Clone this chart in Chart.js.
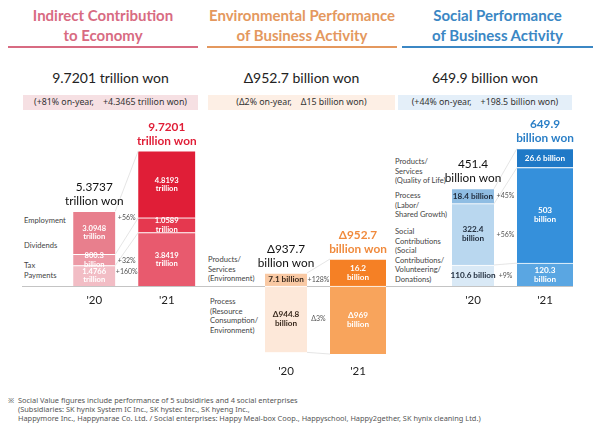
<!DOCTYPE html>
<html>
<head>
<meta charset="utf-8">
<script src="https://cdn.jsdelivr.net/npm/chart.js@4.4.1/dist/chart.umd.min.js"></script>
<style>
body { margin:0; width:599px; height:430px; position:relative; overflow:hidden; background:#fff; font-family:Lato, sans-serif; color:#222; }
.a { position:absolute; white-space:nowrap; }
.title { font-weight:700; font-size:15px; line-height:20px; text-align:center; top:5px; }
.rule { top:46px; height:1.5px; }
.head { top:69px; font-size:14px; line-height:18px; text-align:center; }
.box { top:95px; height:15px; line-height:15px; font-size:8.8px; text-align:center; color:#333; font-family:"Noto Sans", sans-serif; }
.box span { margin-left:9px; }
.lab { font-size:7.6px; line-height:9.5px; color:#444; }
.note { left:8px; font-size:7.4px; line-height:9px; color:#555; font-family:"Noto Sans", sans-serif; }
canvas { position:absolute; }
</style>
</head>
<body>

<div class="a title" style="left:8px;width:190px;color:#d86b82">Indirect Contribution<br>to Economy</div>
<div class="a rule" style="left:8px;width:190px;background:#d86b82"></div>
<div class="a title" style="left:207px;width:190px;color:#e4985e">Environmental Performance<br>of Business Activity</div>
<div class="a rule" style="left:207px;width:190px;background:#e4985e"></div>
<div class="a title" style="left:402px;width:191px;color:#3b87c4">Social Performance<br>of Business Activity</div>
<div class="a rule" style="left:402px;width:191px;background:#3b87c4"></div>

<div class="a head" style="left:23px;width:175px">9.7201 trillion won</div>
<div class="a head" style="left:208px;width:187px">Δ952.7 billion won</div>
<div class="a head" style="left:398px;width:174px">649.9 billion won</div>

<div class="a box" style="left:23px;width:175px;background:#f6e0e3">(+81% on-year,<span>+4.3465 trillion won)</span></div>
<div class="a box" style="left:208px;width:187px;background:#fdefe5">(Δ2% on-year,<span>Δ15 billion won)</span></div>
<div class="a box" style="left:398px;width:174px;background:#e4eff9">(+44% on-year,<span>+198.5 billion won)</span></div>

<div class="a lab" style="left:24px;top:216px">Employment</div>
<div class="a lab" style="left:24px;top:241px">Dividends</div>
<div class="a lab" style="left:24px;top:261px">Tax<br>Payments</div>

<div class="a lab" style="left:208px;top:255px">Products/<br>Services<br>(Environment)</div>
<div class="a lab" style="left:210px;top:297px">Process<br>(Resource<br>Consumption/<br>Environment)</div>

<div class="a lab" style="left:395px;top:157px">Products/<br>Services<br>(Quality of Life)</div>
<div class="a lab" style="left:395px;top:191px">Process<br>(Labor/<br>Shared Growth)</div>
<div class="a lab" style="left:395px;top:227px">Social<br>Contributions<br>(Social<br>Contributions/<br>Volunteering/<br>Donations)</div>

<canvas id="eco" width="210" height="200" style="left:0;top:112px"></canvas>
<canvas id="env" width="200" height="160" style="left:200px;top:225px"></canvas>
<canvas id="soc" width="209" height="200" style="left:390px;top:112px"></canvas>

<div class="a note" style="top:396px">※</div>
<div class="a note" style="left:18px;top:396px">Social Value figures include performance of 5 subsidiries and 4 social enterprises<br>(Subsidiaries: SK hynix System IC Inc., SK hystec Inc., SK hyeng Inc.,<br>Happymore Inc., Happynarae Co. Ltd. / Social enterprises: Happy Meal-box Coop., Happyschool, Happy2gether, SK hynix cleaning Ltd.)</div>

<script>
var years = ["'20", "'21"];

// indirect contribution to economy (trillion won), bottom to top
var ecoTax = [1.4766, 3.8419];
var ecoDividends = [0.8003, 1.0589];
var ecoEmployment = [3.0948, 4.8193];
var ecoTotals = [5.3737, 9.7201];
var ecoChange = ['+160%', '+32%', '+56%'];

// environmental performance (billion won)
var envProcess = [-944.8, -969];
var envProducts = [7.1, 16.2];
var envTotals = [-937.7, -952.7];
var envChange = ['Δ3%', '+128%'];

// social performance (billion won)
var socContrib = [110.6, 120.3];
var socProcess = [322.4, 503];
var socProducts = [18.4, 26.6];
var socTotals = [451.4, 649.9];
var socChange = ['+9%', '+56%', '+45%'];

Chart.defaults.font.family = 'Lato, sans-serif';

function billion(v) {
	return (v < 0 ? 'Δ' : '') + Math.abs(v);
}

var panelPlugin = {
	id: 'panel',
	beforeDatasetsDraw: function(chart, args, o) {
		var ctx = chart.ctx;
		var y0 = Math.round(chart.scales.y.getPixelForValue(0)) + 0.5;
		ctx.save();
		ctx.strokeStyle = '#c4c4c4';
		ctx.lineWidth = 1;
		ctx.beginPath();
		ctx.moveTo(o.lineFrom, y0);
		ctx.lineTo(o.lineTo, y0);
		ctx.stroke();
		ctx.restore();
	},
	afterDatasetsDraw: function(chart, args, o) {
		var ctx = chart.ctx;
		var segs = [];
		chart.data.datasets.forEach(function(ds, di) {
			var el = chart.getDatasetMeta(di).data[ds.year];
			segs[ds.seg] = segs[ds.seg] || [];
			segs[ds.seg][ds.year] = { el: el, v: ds.data[ds.year] };
		});
		ctx.save();
		ctx.textAlign = 'center';
		ctx.textBaseline = 'middle';

		segs.forEach(function(pair, s) {
			var a = pair[0].el, b = pair[1].el;
			var ax = a.x + a.width / 2, bx = b.x - b.width / 2;
			// connector
			ctx.strokeStyle = '#dedede';
			ctx.lineWidth = 0.8;
			ctx.beginPath();
			ctx.moveTo(ax, a.y);
			ctx.lineTo(bx, b.y);
			ctx.stroke();
			// change label
			ctx.fillStyle = '#555';
			ctx.font = '7px Lato';
			var py = o.pctAt == 'top' ? a.y + 6 : (a.y + a.base) / 2;
			ctx.fillText(o.change[s], (ax + bx) / 2, py);
			// value labels
			pair.forEach(function(p, yr) {
				var el = p.el;
				var h = Math.abs(el.base - el.y);
				var lines = o.fmt(p.v);
				if (h < o.oneLine) lines = [lines.join(' ')];
				ctx.fillStyle = o.textColors[yr];
				ctx.font = 'bold ' + o.valueSize + 'px Lato';
				var cy = (el.y + el.base) / 2;
				lines.forEach(function(t, i) {
					ctx.fillText(t, el.x, cy + (i - (lines.length - 1) / 2) * (o.valueSize + 0.8));
				});
			});
		});

		// totals above each bar
		[0, 1].forEach(function(yr) {
			var top = Infinity, x = 0;
			segs.forEach(function(pair) {
				var el = pair[yr].el;
				top = Math.min(top, el.y, el.base);
				x = el.x;
			});
			var t = o.totalFmt(o.totals[yr]);
			ctx.fillStyle = o.totalColors[yr];
			ctx.font = (yr ? 'bold ' : '') + '11.8px Lato';
			ctx.fillText(t[0], x, top - 24);
			ctx.fillText(t[1], x, top - 10);
		});
		ctx.restore();
	}
};

function makeSets(series, col20, col21, thick, minLen) {
	var sets = [];
	series.forEach(function(vals, i) {
		sets.push({
			data: [vals[0], null], year: 0, seg: i,
			backgroundColor: col20[i], barThickness: thick[0], minBarLength: minLen[0][i],
			borderColor: '#fff', borderWidth: {top: 1, bottom: 0, left: 0, right: 0}, borderSkipped: false
		});
		sets.push({
			data: [null, vals[1]], year: 1, seg: i,
			backgroundColor: col21[i], barThickness: thick[1], minBarLength: minLen[1][i],
			borderColor: '#fff', borderWidth: {top: 1, bottom: 0, left: 0, right: 0}, borderSkipped: false
		});
	});
	return sets;
}

function makeChart(id, sets, yMin, yMax, pad, panelOpts) {
	return new Chart(document.getElementById(id), {
		type: 'bar',
		data: { labels: years, datasets: sets },
		options: {
			responsive: false,
			animation: false,
			layout: { padding: pad },
			plugins: {
				legend: { display: false },
				tooltip: { enabled: false },
				panel: panelOpts
			},
			scales: {
				x: {
					stacked: true,
					grid: { display: false, drawTicks: false },
					border: { display: false },
					ticks: { color: '#222', font: { size: 11.5 }, padding: 7 },
					afterFit: function(s) { s.height = 26; }
				},
				y: { stacked: true, display: false, min: yMin, max: yMax }
			}
		},
		plugins: [panelPlugin]
	});
}

var ecoChart = makeChart('eco',
	makeSets([ecoTax, ecoDividends, ecoEmployment],
		['#f2bdc5', '#ec9aa6', '#e87f8d'],
		['#e85a6e', '#e5384f', '#e01e37'],
		[42, 57], [[0, 0, 0], [0, 0, 0]]),
	0, 10.5, { left: 58, right: 7, top: 28, bottom: 0 },
	{
		lineFrom: 22, lineTo: 200, pctAt: 'top', oneLine: 0, valueSize: 7.6,
		change: ecoChange, totals: ecoTotals,
		textColors: ['#fff', '#fff'], totalColors: ['#111', '#e01e37'],
		fmt: function(v) { return v < 1 ? [(v * 1000).toFixed(1), 'billion'] : [v.toFixed(4), 'trillion']; },
		totalFmt: function(v) { return [v.toFixed(4), 'trillion won']; }
	});

var envChart = makeChart('env',
	makeSets([envProcess, envProducts],
		['#fde8d9', '#f9c9a4'],
		['#f8a45c', '#f58025'],
		[42, 56], [[0, 13], [0, 27]]),
	-1011, 513, { left: 50, right: 6, top: 25, bottom: 2 },
	{
		lineFrom: 0, lineTo: 190, pctAt: 'mid', oneLine: 22, valueSize: 8.2,
		change: envChange, totals: envTotals,
		textColors: ['#3a2a1e', '#fff'], totalColors: ['#111', '#f08a3c'],
		fmt: function(v) { return [billion(v), 'billion']; },
		totalFmt: function(v) { return [billion(v), 'billion won']; }
	});

var socChart = makeChart('soc',
	makeSets([socContrib, socProcess, socProducts],
		['#d9e9f6', '#b9d7ef', '#8fbde3'],
		['#5aa6e2', '#3590db', '#1f79c7'],
		[42, 56], [[0, 0, 15], [0, 0, 19]]),
	0, 768, { left: 47, right: 18, top: 28, bottom: 0 },
	{
		lineFrom: 0, lineTo: 183, pctAt: 'mid', oneLine: 22, valueSize: 8.2,
		change: socChange, totals: socTotals,
		textColors: ['#1e2a3a', '#fff'], totalColors: ['#111', '#2a7fc7'],
		fmt: function(v) { return [billion(v), 'billion']; },
		totalFmt: function(v) { return [billion(v), 'billion won']; }
	});
</script>
</body>
</html>
